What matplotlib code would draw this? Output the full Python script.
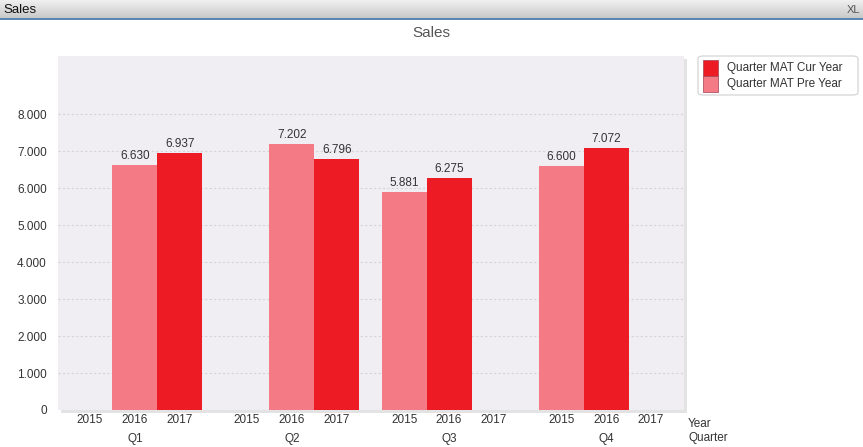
import numpy as np
import matplotlib
matplotlib.use("Agg")
import matplotlib.pyplot as plt
from matplotlib.patches import Rectangle, FancyBboxPatch

quarters = ["Q1", "Q2", "Q3", "Q4"]
years = ["2015", "2016", "2017"]
# value per (quarter, year) slot, None = no bar
pre_year = [[None, 6630, None], [None, 7202, None], [5881, None, None], [6600, None, None]]
cur_year = [[None, None, 6937], [None, None, 6796], [None, 6275, None], [None, 7072, None]]
series_names = ["Quarter MAT Cur Year", "Quarter MAT Pre Year"]
yticks = [0, 1000, 2000, 3000, 4000, 5000, 6000, 7000, 8000]

RED = "#ED1C24"
PINK = "#F47A85"
BG = "#F1EEF3"

W, H = 863, 447
fig = plt.figure(figsize=(W / 100, H / 100), dpi=100)
plt.rcParams['font.family'] = ['Liberation Sans', 'DejaVu Sans']


def fx(px):
    return px / W


def fy(py):
    return 1 - py / H


# window title bar
bar = fig.add_axes([0, fy(18), 1, 18 / H])
grad = np.linspace(0, 1, 50).reshape(-1, 1)
bar.imshow(grad, aspect="auto", cmap=matplotlib.colors.LinearSegmentedColormap.from_list(
    "g", ["#F0F0F0", "#C9C9C9"]), extent=[0, 1, 0, 1])
bar.set_axis_off()
bar.text(0.004, 0.45, "Sales", fontsize=9.5, color="#111111", va="center", transform=bar.transAxes)
bar.text(0.997, 0.45, "XL", fontsize=8, color="#555555", va="center", ha="right", transform=bar.transAxes)
fig.add_artist(plt.Line2D([0, 1], [fy(18.5), fy(18.5)], color="#3A6EA5", lw=1.2))

fig.text(fx(431), fy(33), "Sales", ha="center", va="center", fontsize=11, color="#555555")

# plot shadow
fig.add_artist(Rectangle((fx(61), fy(413)), fx(684 - 58), (410 - 56) / H,
                         facecolor="#C8C8C8", edgecolor="none", alpha=0.5, zorder=0))

ax = fig.add_axes([fx(58), fy(410), fx(684 - 58), (410 - 56) / H])
ax.set_facecolor(BG)
ax.set_zorder(1)

pos = []
for g in range(4):
    for k in range(3):
        pos.append(g * 3.5 + k)

for g in range(4):
    for k in range(3):
        x = g * 3.5 + k
        for vals, col in ((pre_year, PINK), (cur_year, RED)):
            v = vals[g][k]
            if v is None:
                continue
            ax.bar(x, v, width=1.0, color=col, zorder=3)
            ax.text(x, v + 80, f"{v:,}".replace(",", "."), ha="center", va="bottom",
                    fontsize=8.5, color="#333333", zorder=4)

ax.set_xlim(-0.711, 13.233)
ax.set_ylim(0, 9568)
ax.set_yticks(yticks)
ax.set_yticklabels([f"{t:,}".replace(",", ".") for t in yticks], fontsize=8.5, color="#333333")
ax.yaxis.grid(True, color="#D6D2D8", linestyle=(0, (2, 2)), lw=0.8, zorder=1)
ax.tick_params(axis="y", length=0, pad=8)
ax.set_xticks(pos)
ax.set_xticklabels(years * 4, fontsize=8.5, color="#333333")
ax.tick_params(axis="x", length=0, pad=3)
for s in ax.spines.values():
    s.set_visible(False)

for g, q in enumerate(quarters):
    ax.annotate(q, xy=(g * 3.5 + 1, 0), xycoords=("data", "axes fraction"),
                xytext=(0, -29), textcoords="offset pixels", ha="center", va="center",
                fontsize=8.5, color="#333333")
fig.text(fx(688), fy(424), "Year", fontsize=8.5, color="#333333", va="center")
fig.text(fx(688), fy(438), "Quarter", fontsize=8.5, color="#333333", va="center")

# legend
fig.add_artist(FancyBboxPatch((fx(698), fy(95)), fx(858 - 698), (95 - 56) / H,
                              boxstyle="round,pad=0,rounding_size=0.006",
                              facecolor="white", edgecolor="#D0D0D0", lw=0.8))
for i, (name, col) in enumerate(zip(series_names, [RED, PINK])):
    y0 = 60 + i * 16
    fig.add_artist(Rectangle((fx(703), fy(y0 + 16)), fx(15), 16 / H, facecolor=col,
                             edgecolor="#A04050", lw=0.5))
    fig.text(fx(727), fy(y0 + 8), name, fontsize=8.5, color="#333333", va="center")

fig.savefig("out.png", dpi=100)
